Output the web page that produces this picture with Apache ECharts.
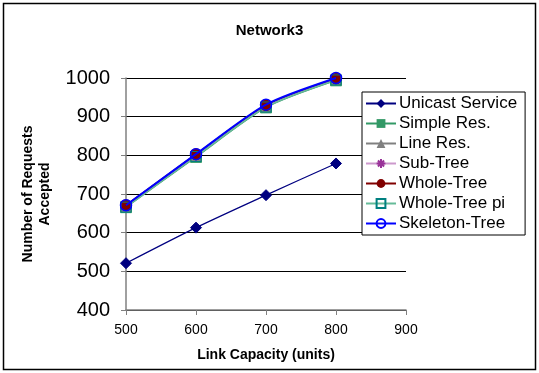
<!DOCTYPE html>
<html><head><meta charset="utf-8">
<script src="https://cdn.jsdelivr.net/npm/echarts@6/dist/echarts.min.js"></script>
<style>html,body{margin:0;padding:0;background:#fff}#c{width:539px;height:373px}</style>
</head><body><div id="c"></div>
<script>
const categories = [500, 600, 700, 800];
const xTicks = [500, 600, 700, 800, 900];
const yTicks = [400, 500, 600, 700, 800, 900, 1000];
const unicast = [521, 613, 697, 779];
const simpleRes = [666, 796, 924, 994];
const lineRes = [668, 798, 926, 996];
const subTree = [669, 800, 928, 998];
const wholeTree = [671, 803, 930, 999];
const wholeTreePi = [666, 797, 925, 995];
const skeletonTree = [671, 803, 931, 1000];

const asterisk = 'path://M5,0L5,10M0,5L10,5M1.5,1.5L8.5,8.5M8.5,1.5L1.5,8.5';
function pts(arr){ return categories.map((c,i)=>[c,arr[i]]); }

const chart = echarts.init(document.getElementById('c'));
const F = 'Arial, "Liberation Sans", sans-serif';
function s(name, data, color, lineColor, symbol, size, extra){
  return Object.assign({
    name, type:'line', data: pts(data), smooth: 0.25, symbol, symbolSize:size,
    lineStyle:{color:lineColor, width:1.5}, itemStyle:{color:color, borderColor:color},
    z: 2
  }, extra||{});
}
chart.setOption({
  animation:false,
  title:{text:'Network3', left:'center', top:18, textStyle:{fontFamily:F, fontSize:15, fontWeight:'bold', color:'#000'}},
  grid:{left:126, right:133, top:78, bottom:63, containLabel:false},
  xAxis:{type:'value', min:500, max:900, interval:100,
    name:'Link Capacity (units)', nameLocation:'middle', nameGap:38,
    nameTextStyle:{fontFamily:F, fontSize:14, fontWeight:'bold', color:'#000'},
    axisLine:{lineStyle:{color:'#808080', width:1.5}},
    axisTick:{show:true, length:5, lineStyle:{color:'#808080'}},
    axisLabel:{fontFamily:F, fontSize:14, color:'#000', margin:13, formatter:v=>xTicks.includes(v)?String(v):''},
    splitLine:{show:false}},
  yAxis:{type:'value', min:400, max:1000, interval:100,
    name:'Number of Requests\nAccepted', nameLocation:'middle', nameGap:72, nameRotate:90,
    nameTextStyle:{fontFamily:F, fontSize:14, fontWeight:'bold', color:'#000', lineHeight:17},
    axisLine:{show:true, lineStyle:{color:'#808080', width:1.5}},
    axisTick:{show:true, length:5, lineStyle:{color:'#808080'}},
    axisLabel:{fontFamily:F, fontSize:20, color:'#000', margin:16, formatter:v=>yTicks.includes(v)?String(v):''},
    splitLine:{show:true, lineStyle:{color:'#000', width:1}}},
  legend:{orient:'vertical', left:362, top:92, width:166,
    backgroundColor:'#fff', borderColor:'#000', borderWidth:1, padding:[3,8,3,3],
    itemGap:3, itemWidth:30, itemHeight:11,
    textStyle:{fontFamily:F, fontSize:17, color:'#000', padding:[0,0,0,-2]},
    data:['Unicast Service','Simple Res.','Line Res.','Sub-Tree','Whole-Tree','Whole-Tree pi','Skeleton-Tree']},
  graphic:[{type:'rect', shape:{x:3.5,y:3.5,width:532,height:366}, style:{fill:'none', stroke:'#000', lineWidth:1.5}, silent:true}],
  series:[
    s('Unicast Service', unicast, '#000080', '#000080', 'diamond', 11, {lineStyle:{color:'#000080', width:1.2}}),
    s('Simple Res.', simpleRes, '#339966', '#339966', 'rect', 11),
    s('Line Res.', lineRes, '#808080', '#808080', 'triangle', 10),
    s('Sub-Tree', subTree, '#993399', '#CC99CC', asterisk, 10, {itemStyle:{color:'#993399', borderColor:'#993399', borderWidth:1.5}}),
    s('Whole-Tree', wholeTree, '#800000', '#800000', 'circle', 11),
    s('Whole-Tree pi', wholeTreePi, 'rgba(0,0,0,0)', '#66BB99', 'rect', 10, {itemStyle:{color:'rgba(0,0,0,0)', borderColor:'#008080', borderWidth:1}}),
    s('Skeleton-Tree', skeletonTree, 'rgba(0,0,0,0)', '#0000FF', 'circle', 11, {itemStyle:{color:'rgba(0,0,0,0)', borderColor:'#0000FF', borderWidth:1.5}, lineStyle:{color:'#0000FF', width:2}, z:3})
  ]
});
</script></body></html>
